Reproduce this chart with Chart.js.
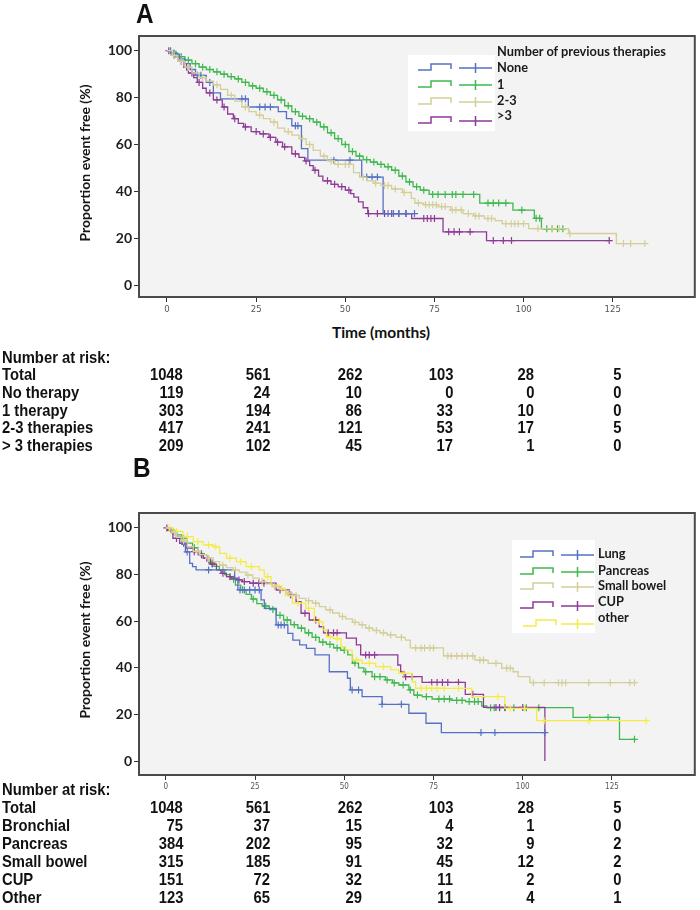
<!DOCTYPE html>
<html>
<head>
<meta charset="utf-8">
<title>Event-free survival by previous therapies and primary site</title>
<script src="https://cdn.jsdelivr.net/npm/chart.js@4.4.1/dist/chart.umd.min.js"></script>
<style>
  html, body { margin: 0; padding: 0; background: #fff; }
  #page { position: relative; width: 700px; height: 910px; overflow: hidden; }
  #page canvas { position: absolute; left: 0; }
  #chartA { top: 0; }
  #chartB { top: 460px; }
  .t { position: absolute; white-space: nowrap; color: #111; line-height: 20px; height: 20px; }
  .yt { font: bold 14px Lato, "Liberation Sans", sans-serif; color: #161616; }
</style>
</head>
<body>
<div id="page">
  <canvas id="chartA" width="700" height="320"></canvas>
  <canvas id="chartB" width="700" height="335"></canvas>
</div>
<script>
// axis ticks
const monthTicks = [0, 25, 50, 75, 100, 125];
const pctTicks = [0, 20, 40, 60, 80, 100];

// ---- panel A: number of previous therapies (step times / survival % / censor times)
const aNoneT = [0, 1.5, 3.5, 5, 6.5, 8, 11, 13, 15, 22.8, 31.2, 33.5, 35, 37.7, 39.5, 54.6, 60.6, 69.4];
const aNoneS = [100, 98.5, 96.5, 94.5, 92, 89.5, 86.5, 82, 79.5, 76, 74, 71, 68, 58.2, 53.3, 46.1, 30.5, 30.5];
const aNoneCens = [1, 2.5, 8.5, 9.5, 12, 21, 22, 26, 27.5, 29, 36, 36.7, 46.8, 51.3, 56, 57.5, 59, 62, 63.5, 65, 67, 69.4];

const aOneT = [0, 1.5, 3, 5, 7, 9, 11, 13, 15, 17, 19, 21, 23, 25, 27, 29, 31, 33, 35, 37, 39, 41, 43, 45, 47, 49, 51, 53, 55, 57, 59, 61, 63, 65, 67, 69, 71, 73.5, 87.7, 97, 103, 105, 111];
const aOneS = [100, 99, 97.5, 96, 94.5, 93, 92, 91, 90, 89, 88, 86.5, 85, 84, 82.5, 81, 79, 76.5, 74, 72, 71, 69.5, 67.5, 65, 62.5, 60, 57, 55, 53.5, 52.5, 51.5, 50.5, 49, 46.5, 44, 42, 40.5, 38.7, 35, 32, 28.5, 24, 24];
const aOneCens = [2, 4, 6, 8, 10, 12, 14, 16, 18, 20, 22, 24, 26, 28, 30, 32, 34, 36, 38, 40, 42, 44, 46, 48, 50, 52, 54, 56, 58, 60, 62, 64, 66, 68, 70, 72, 74.5, 76, 78, 80, 81, 83, 86, 90, 91.5, 93, 95, 99.5, 103.5, 104.5, 106.5, 108, 109.5, 111];

const aTwoT = [0, 1.5, 3, 5, 7, 9, 11, 13, 15, 17, 19, 21, 23, 25, 27, 29, 31, 33, 35, 37, 39, 41, 43, 45, 47, 52.3, 54, 56, 58, 60, 63, 66, 68.5, 69.5, 72, 76, 79.5, 83, 86, 89, 92, 94, 101.4, 112.6, 126, 134];
const aTwoS = [100, 98, 95.5, 93, 90.5, 88.5, 87, 85.5, 83.5, 81, 78.5, 76, 74, 72.5, 71, 69.5, 67, 65.5, 64, 62.5, 60, 57.5, 55, 53, 51.5, 48, 46, 44.5, 43.5, 42.5, 41, 39.5, 37, 35, 34.3, 33.5, 32, 30.5, 29.5, 28.4, 27.5, 26.2, 24.1, 22, 17.7, 17.7];
const aTwoCens = [2, 4, 6, 10, 14, 18, 22, 26, 30, 34, 38, 40, 44, 46, 48, 50, 51, 55, 58.5, 61, 62, 64, 66.5, 70.5, 72.5, 73.5, 74.5, 75.5, 77, 78, 80, 81, 82.5, 84.5, 86.5, 87.5, 90, 91, 95, 96.5, 97.5, 98.5, 100, 104, 108, 110, 113, 128, 130, 134];

const aThreeT = [0, 1.5, 3, 4.8, 6, 7.5, 8.5, 10, 11, 13, 15.5, 17, 18.6, 20, 21.5, 23.6, 26, 28.6, 30.5, 32.4, 35, 37, 38.6, 40, 41, 42.5, 43.7, 46, 48, 50, 51.5, 52.4, 53.7, 55, 56.3, 68.6, 77.4, 89.6, 124];
const aThreeS = [100, 98, 95.5, 93, 90.5, 88.5, 86.5, 84, 82, 79, 76, 73, 71, 69, 67.5, 65.5, 64.5, 63, 61, 59, 56, 54.5, 53, 51, 49, 46.5, 44.5, 43, 42, 40.5, 39, 37.5, 35.5, 33, 30.5, 28.4, 22.7, 19, 19];
const aThreeCens = [0.5, 2, 4, 5.5, 7, 9, 12, 14, 16, 19, 22, 25, 27, 29, 31, 33, 36, 39, 41.5, 45, 47, 49, 51, 56.5, 59, 61, 63, 65, 67, 72, 73, 74, 75, 79, 80.5, 82, 85, 91.5, 94.3, 96.6, 124];

// ---- panel B: primary tumour site
const bLungT = [0, 1.5, 3, 4.5, 5.5, 6.7, 7.5, 8.5, 19.3, 20.2, 26.7, 27.6, 30.9, 34.2, 35.6, 37.5, 39.4, 41.8, 45.8, 50.9, 51.7, 55, 60.6, 68.1, 72.9, 77.2, 106.2];
const bLungS = [100, 98, 96, 93, 89.7, 84.8, 83.4, 82, 78.4, 73.4, 69.1, 65.5, 58.4, 54.8, 51.9, 49.8, 48.3, 45.5, 38.3, 35.5, 30.5, 27.6, 24.3, 20.5, 16.2, 12.2, 12.2];
const bLungCens = [6, 12, 20.8, 22, 23.5, 25, 26.2, 31.5, 32.3, 33.2, 52.2, 54, 60.6, 66, 88.3, 92.2, 106.2];

const bPancT = [0, 1.5, 3, 4.5, 6, 7.5, 9, 10.5, 12, 13.5, 15, 16.5, 18, 19.5, 21, 22.5, 24, 25.5, 27, 29, 31, 33, 35, 37, 39, 41, 43, 45, 47, 49, 51, 52.3, 54, 55.5, 57.8, 61.5, 63.5, 65.3, 68.1, 69.5, 71.8, 74.6, 80, 84, 88.5, 89.9, 114.1, 127.1, 131.3];
const bPancS = [100, 98.5, 97, 95.5, 93.5, 91.5, 89, 87, 85, 83.5, 82, 80, 78, 75.5, 73.5, 71.5, 69.5, 67.5, 66.5, 65, 62.5, 60.5, 58.5, 57, 55, 53, 51, 50, 48.5, 47.5, 45.5, 42, 40, 38.3, 36.2, 34.8, 33.5, 32.6, 30.5, 28.3, 27.6, 26.6, 26, 25.5, 23.6, 22.9, 18.7, 9.3, 9.3];
const bPancCens = [2, 5, 8, 10, 13, 16, 19, 21.5, 24.5, 28, 30, 32, 34, 36, 38, 40, 42, 44, 46, 48, 50, 53, 56, 58.5, 60, 62, 64, 66.5, 68.5, 70.5, 73, 76.5, 78, 79.5, 81.5, 83, 85, 86.5, 87.5, 91, 92, 93.5, 95, 97.5, 101, 104.5, 118.8, 123.9, 131.3];

const bBowelT = [0, 1.5, 3, 4.5, 6, 7.7, 9.5, 11.4, 13.3, 15.1, 17, 18.8, 20.6, 22.5, 24.4, 26.2, 28, 29.9, 31.8, 33.7, 35.5, 37.4, 39.2, 41.1, 43, 44.8, 46.7, 48.6, 50.4, 52.3, 54.1, 56, 58, 60, 62, 64.5, 67.1, 68.5, 77.8, 86.6, 90.3, 94.1, 97.3, 98.7, 102, 131.3];
const bBowelS = [100, 98, 96, 94.5, 92, 90, 88.5, 87, 85.5, 84, 83, 82, 81, 79.8, 78.5, 77, 76, 74.8, 73.5, 72, 71, 69.8, 68.8, 67.7, 66.2, 64.8, 63.5, 62, 61, 59.5, 58.5, 57, 56, 55, 54.1, 53, 51.9, 48.5, 45.1, 43.3, 41.9, 39.8, 38.3, 36.2, 33.6, 33.6];
const bBowelCens = [2.5, 5, 9, 12, 16, 19.5, 23, 27, 30.5, 34.5, 36.5, 40, 42, 46, 49.5, 53, 55, 57, 59, 61, 63, 66, 70, 71.5, 72.5, 74, 75, 79, 80, 81.5, 83, 84.5, 86, 88, 89, 92.5, 95.5, 96.5, 103, 106, 110, 111, 112, 118.5, 124.5, 130, 131.3];

const bCupT = [0, 0.5, 2, 3.9, 5.8, 7.7, 9, 10.5, 12.5, 14.2, 15.5, 17, 18.5, 19.8, 21.5, 23.5, 30.9, 34.6, 36.5, 37.9, 40.2, 43, 44.2, 50.6, 53.4, 54.6, 65, 65.8, 66.7, 71.8, 83.9, 89, 106.2];
const bCupS = [100, 99, 95.5, 93.4, 91.3, 89.8, 88.5, 87, 84.5, 82, 80.5, 79.1, 78.3, 77.7, 77, 76.3, 73.4, 71.2, 68.4, 63.4, 60.5, 57.6, 55, 52.7, 49.8, 45.5, 41.2, 38.3, 36.2, 33.7, 28.6, 23, 0];
const bCupCens = [0.3, 3, 5, 8, 10, 11.5, 13, 16, 18, 20.5, 22, 24.5, 26, 27.5, 32, 35, 39, 42, 45.5, 47, 48, 56, 57, 58.5, 67.2, 69, 74.5, 76, 77.5, 79, 82, 86, 92.5, 93.5, 95, 100];

const bOtherT = [0, 2, 4.8, 7.7, 10.5, 13.3, 15.1, 17, 19.8, 22.5, 26.2, 27.6, 29.5, 31.8, 33.5, 35.5, 39.2, 41.6, 44, 45, 47, 49.1, 50.3, 52.2, 55, 58.8, 63, 65.3, 69, 70, 85.7, 95, 103.9, 134.6];
const bOtherS = [100, 98.5, 96.3, 94.1, 92.7, 92, 89.1, 87, 85.5, 83.4, 82, 79.1, 75.5, 74.1, 71, 67.7, 65.5, 59.8, 56.2, 53.3, 52.5, 49.1, 47.6, 43.3, 41.9, 40.5, 39.1, 37.6, 34, 31.2, 27.6, 22.6, 17.3, 17.3];
const bOtherCens = [1, 3, 6, 9, 12, 14, 18, 21, 24, 28.5, 32.5, 37, 40, 43, 46, 48, 53.5, 57, 61, 66.5, 71.5, 73, 74.5, 76, 78, 82, 93, 96.5, 100.5, 106, 118.5, 134.6];

// ---- number at risk tables
const riskAGroups = ['Total', 'No therapy', '1 therapy', '2-3 therapies', '> 3 therapies'];
const riskATotal = [1048, 561, 262, 103, 28, 5];
const riskANone = [119, 24, 10, 0, 0, 0];
const riskAOne = [303, 194, 86, 33, 10, 0];
const riskATwo = [417, 241, 121, 53, 17, 5];
const riskAThree = [209, 102, 45, 17, 1, 0];

const riskBGroups = ['Total', 'Bronchial', 'Pancreas', 'Small bowel', 'CUP', 'Other'];
const riskBTotal = [1048, 561, 262, 103, 28, 5];
const riskBLung = [75, 37, 15, 4, 1, 0];
const riskBPanc = [384, 202, 95, 32, 9, 2];
const riskBBowel = [315, 185, 91, 45, 12, 2];
const riskBCup = [151, 72, 32, 11, 2, 0];
const riskBOther = [123, 65, 29, 11, 4, 1];

const legendATitle = 'Number of previous therapies';
const legendANames = ['None', '1', '2-3', '>3'];
const legendBNames = ['Lung', 'Pancreas', 'Small bowel', 'CUP', 'other'];

const BLUE = '#5571c4', GREEN = '#3fb84e', KHAKI = '#d4ce98', PURPLE = '#8f3a99', YELLOW = '#f3ec45';

// the table face is a narrow grotesque; squeeze Liberation Sans to get there
const narrowFamily = '"Liberation Sans", Arial, sans-serif';
const squeeze = 0.87;

const page = document.getElementById('page');

function addText(str, x, cy, css, align, sx) {
    const d = document.createElement('div');
    d.className = 't';
    d.textContent = str;
    d.style.cssText += css;
    d.style.top = (cy - 10) + 'px';
    if (align === 'right') {
        d.style.right = (700 - x) + 'px';
        d.style.transformOrigin = 'right center';
    } else {
        d.style.left = x + 'px';
        d.style.transformOrigin = 'left center';
    }
    if (sx) d.style.transform = 'scaleX(' + sx + ')';
    page.appendChild(d);
    return d;
}

function survAt(T, S, t) {
    let v = S[0];
    for (let i = 0; i < T.length; i++) {
        if (T[i] <= t) v = S[i];
    }
    return v;
}

function kmSets(T, S, cens, color) {
    return [{
        data: T.map((t, i) => ({ x: t, y: S[i] })),
        borderColor: color,
        borderWidth: 1.3,
        stepped: 'before',
        pointRadius: 0,
        fill: false
    }, {
        data: cens.map(t => ({ x: t, y: survAt(T, S, t) })),
        showLine: false,
        pointStyle: 'cross',
        pointRadius: 3.5,
        pointBorderWidth: 1.2,
        borderColor: color,
        backgroundColor: color
    }];
}

const kmFrame = {
    id: 'kmFrame',
    beforeDraw(chart) {
        const a = chart.chartArea, ctx = chart.ctx;
        ctx.save();
        ctx.fillStyle = '#f3f3f3';
        ctx.fillRect(a.left, a.top, a.right - a.left, a.bottom - a.top);
        ctx.restore();
    },
    afterDraw(chart, args, opts) {
        const a = chart.chartArea, ctx = chart.ctx;
        ctx.save();
        ctx.strokeStyle = '#4a4a4a';
        ctx.lineWidth = 2;
        ctx.strokeRect(a.left, a.top, a.right - a.left, a.bottom - a.top);
        // legend box with step and censor glyphs
        const b = opts.box;
        ctx.fillStyle = '#fff';
        ctx.fillRect(b[0], b[1], b[2], b[3]);
        ctx.lineWidth = 1.5;
        opts.rows.forEach(r => {
            ctx.strokeStyle = r.color;
            const sx = r.sx, cy = r.cy;
            ctx.beginPath();
            ctx.moveTo(sx, cy + 2);
            ctx.lineTo(sx + 13, cy + 2);
            ctx.lineTo(sx + 13, cy - 4);
            ctx.lineTo(sx + 33, cy - 4);
            ctx.lineTo(sx + 33, cy + 1);
            ctx.stroke();
            const px = r.px;
            ctx.beginPath();
            ctx.moveTo(px, cy);
            ctx.lineTo(px + 33, cy);
            ctx.moveTo(px + 16.5, cy - 5);
            ctx.lineTo(px + 16.5, cy + 5);
            ctx.stroke();
        });
        ctx.restore();
    }
};

function kmOptions(xr, yr, xh, pad, legend, tickSize) {
    return {
        responsive: false,
        animation: false,
        layout: { padding: pad },
        plugins: { legend: { display: false }, tooltip: { enabled: false }, kmFrame: legend },
        scales: {
            x: {
                type: 'linear', min: xr[0], max: xr[1],
                afterBuildTicks: s => { s.ticks = monthTicks.map(v => ({ value: v })); },
                afterFit: s => { s.height = xh; },
                grid: { drawOnChartArea: false, tickLength: 5, color: '#333' },
                border: { display: false },
                ticks: { padding: 2, maxRotation: 0, color: '#555', font: { family: '"DejaVu Sans Condensed", "Liberation Sans", sans-serif', size: tickSize } }
            },
            y: {
                type: 'linear', min: yr[0], max: yr[1],
                afterBuildTicks: s => { s.ticks = pctTicks.map(v => ({ value: v })); },
                afterFit: s => { s.width = 139; },
                grid: { drawOnChartArea: false, tickLength: 5, color: '#333' },
                border: { display: false },
                ticks: { padding: 2, color: '#1e1e1e', font: { family: 'Lato', weight: 'bold', size: 14 } }
            }
        }
    };
}

// ---- panel A chart
new Chart(document.getElementById('chartA'), {
    type: 'line',
    data: {
        datasets: [
            ...kmSets(aTwoT, aTwoS, aTwoCens, KHAKI),
            ...kmSets(aNoneT, aNoneS, aNoneCens, BLUE),
            ...kmSets(aThreeT, aThreeS, aThreeCens, PURPLE),
            ...kmSets(aOneT, aOneS, aOneCens, GREEN)
        ]
    },
    options: kmOptions([-7.85, 148], [-5.1, 106.3], 23, { top: 36, right: 5, left: 0, bottom: 0 }, {
        box: [408, 55, 87, 76],
        rows: [BLUE, GREEN, KHAKI, PURPLE].map((c, i) => ({ color: c, cy: [68, 85, 102, 121][i], sx: 418, px: 459 }))
    }, 9.5),
    plugins: [kmFrame]
});

// ---- panel B chart (canvas starts at y = 460)
new Chart(document.getElementById('chartB'), {
    type: 'line',
    data: {
        datasets: [
            ...kmSets(bBowelT, bBowelS, bBowelCens, KHAKI),
            ...kmSets(bOtherT, bOtherS, bOtherCens, YELLOW),
            ...kmSets(bLungT, bLungS, bLungCens, BLUE),
            ...kmSets(bCupT, bCupS, bCupCens, PURPLE),
            ...kmSets(bPancT, bPancS, bPancCens, GREEN)
        ]
    },
    options: kmOptions([-7.5, 148.2], [-6, 106.4], 20, { top: 53, right: 3, left: 0, bottom: 0 }, {
        box: [512, 80, 83, 93],
        rows: [BLUE, GREEN, KHAKI, PURPLE, YELLOW].map((c, i) => ({
            color: c, cy: [95, 112, 127, 146, 164][i], sx: i === 4 ? 523 : 520, px: 561
        }))
    }, 8),
    plugins: [kmFrame]
});

// ---- text: panel letters, legends, axis titles
const bigFont = 'font: bold 28px ' + narrowFamily + '; line-height: 20px;';
addText('A', 136, 14, bigFont, 'left', squeeze);
addText('B', 133, 468, bigFont, 'left', squeeze);

const legFont = 'font: bold 12.8px Lato, sans-serif; color:#1a1a1a;';
addText(legendATitle, 497, 53, legFont);
legendANames.forEach((n, i) => addText(n, 497, [69, 86, 102, 117][i], legFont));
legendBNames.forEach((n, i) => addText(n, 598, [555, 572, 587, 603, 619][i], legFont));

function yTitle(cx, cy) {
    const d = document.createElement('div');
    d.className = 't yt';
    d.textContent = 'Proportion event free (%)';
    d.style.left = cx + 'px';
    d.style.top = cy + 'px';
    d.style.transform = 'translate(-50%, -50%) rotate(-90deg)';
    page.appendChild(d);
}
yTitle(86, 163);
yTitle(86, 640);

const xt = addText('Time (months)', 381, 333, 'font: bold 15.5px Lato, sans-serif;');
xt.style.transform = 'translateX(-50%)';

// ---- number at risk tables
const colRight = [183, 270, 362, 453, 534, 621];
const riskFont = 'font: bold 17px ' + narrowFamily + ';';

function riskTable(headY, firstY, step, groups, rows) {
    addText('Number at risk:', 2, headY, riskFont, 'left', squeeze);
    rows.forEach((vals, r) => {
        const y = firstY + r * step;
        addText(groups[r], 2, y, riskFont, 'left', squeeze);
        vals.forEach((v, j) => addText(String(v), colRight[j], y, riskFont, 'right', squeeze));
    });
}
riskTable(358, 375, 17.75, riskAGroups, [riskATotal, riskANone, riskAOne, riskATwo, riskAThree]);
riskTable(790, 808, 18, riskBGroups, [riskBTotal, riskBLung, riskBPanc, riskBBowel, riskBCup, riskBOther]);
</script>
</body>
</html>
